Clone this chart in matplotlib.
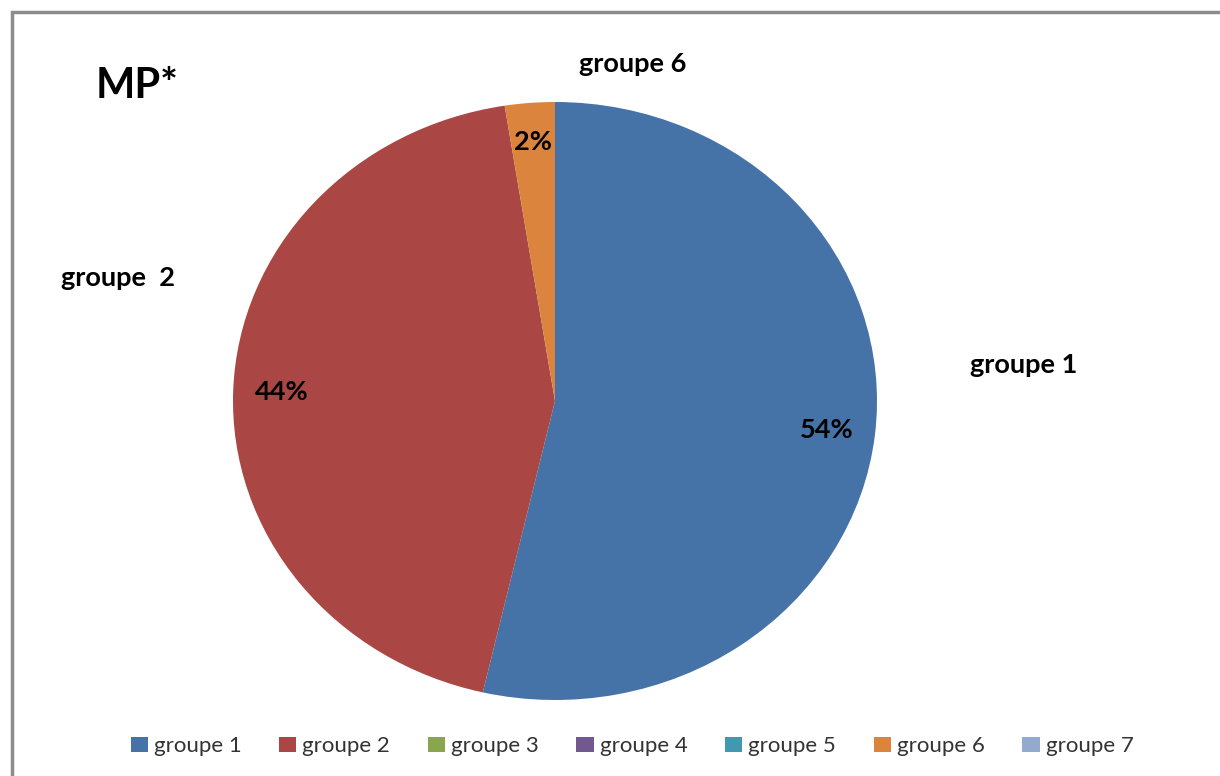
import numpy as np
import matplotlib.pyplot as plt
from matplotlib.patches import Patch, Rectangle

plt.rcParams['font.family'] = ['Lato', 'DejaVu Sans']

# données (parts en %)
groupes = ['groupe 1', 'groupe 2', 'groupe 3', 'groupe 4', 'groupe 5', 'groupe 6', 'groupe 7']
parts = [53.6, 43.9, 0, 0, 0, 2.5, 0]
pourcentages = ['54%', '44%', '', '', '', '2%', '']
couleurs = ['#4572A7', '#AA4643', '#89A54E', '#71588F', '#4198AF', '#DB843D', '#93A9CF']
etiquettes = {0: 'groupe 1', 1: 'groupe  2', 5: 'groupe 6'}
titre = 'MP*'

W, H = 1220, 776
fig = plt.figure(figsize=(W / 100, H / 100), dpi=100)
ax = fig.add_axes([0, 0, 1, 1])

wedges, _ = ax.pie(parts, colors=couleurs, startangle=90, counterclock=False,
                   wedgeprops=dict(linewidth=0))

# ellipse comme dans l'original (pixels)
cx, cy, rx, ry = 555, 401, 322, 299
ax.set_aspect('auto')
ax.set_xlim(-cx / rx, (W - cx) / rx)
ax.set_ylim(-(H - cy) / ry, cy / ry)
ax.axis('off')

# pourcentages dans les parts
for i, w in enumerate(wedges):
    if not pourcentages[i]:
        continue
    ang = np.deg2rad((w.theta1 + w.theta2) / 2)
    r = 0.87 if parts[i] < 5 else 0.85
    ax.text(r * np.cos(ang), r * np.sin(ang), pourcentages[i],
            ha='center', va='center', fontsize=19.5, fontweight='bold', color='black')

# noms des groupes (placés à la main comme dans Excel)
pos_noms = {0: (1.457, 0.12), 1: (-1.357, 0.411), 5: (0.242, 1.127)}
for i, txt in etiquettes.items():
    x, y = pos_noms[i]
    ax.text(x, y, txt, ha='center', va='center', fontsize=19.5, fontweight='bold', color='black')

fig.text(137 / W, 1 - 86 / H, titre, ha='center', va='center', fontsize=30, fontweight='bold')

handles = [Patch(facecolor=c, edgecolor='none') for c in couleurs]
fig.legend(handles, groupes, loc='center', bbox_to_anchor=(632 / W, 1 - 746 / H), ncol=7,
           frameon=False, fontsize=16, handlelength=0.77, handleheight=0.68, handletextpad=0.27,
           columnspacing=1.7, labelcolor='#333333')

# cadre gris
fig.patches.append(Rectangle((12 / W, -0.1), 1.2, 1 - 12 / H + 0.1, transform=fig.transFigure,
                             fill=False, edgecolor='#8c8c8c', linewidth=2.5))

fig.savefig('out.png', dpi=100)
